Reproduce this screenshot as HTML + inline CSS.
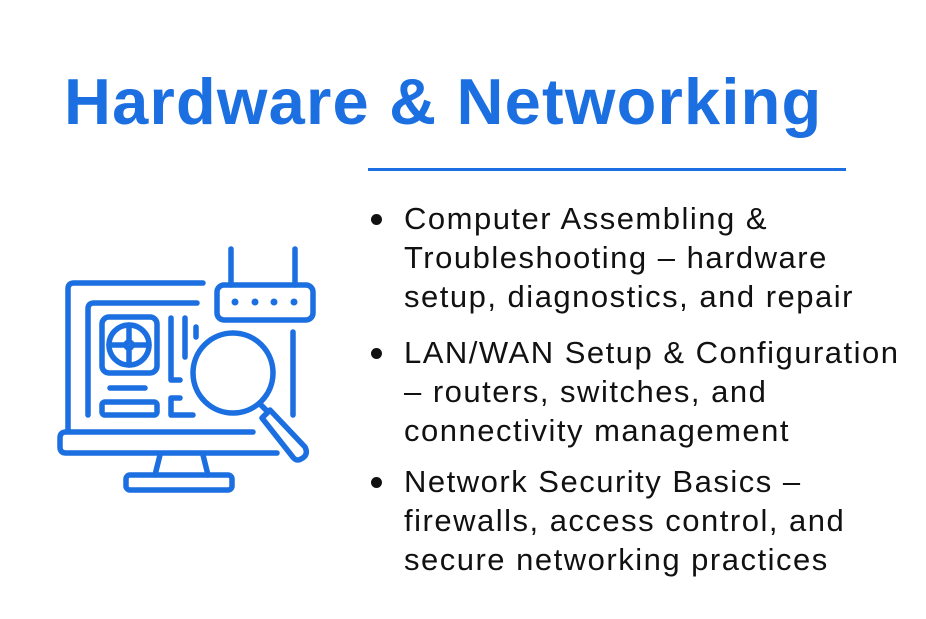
<!DOCTYPE html>
<html><head><style>
body{margin:0;width:926px;height:619px;background:#fff;overflow:hidden;position:relative;font-family:"Liberation Sans",sans-serif}
h1{position:absolute;left:64px;top:64px;margin:0;font-size:65px;font-weight:bold;color:#1b6fe0;letter-spacing:1.2px;white-space:nowrap}
.rule{position:absolute;left:368px;top:168px;width:478px;height:3px;background:#1b6fe0}
ul{position:absolute;left:404px;top:199px;margin:0;padding:0;list-style:none;font-size:31px;line-height:39px;color:#111;white-space:nowrap;letter-spacing:1.5px}
li{position:relative;margin-bottom:17px}
li:nth-child(2){margin-bottom:12px}
li:before{content:"";position:absolute;left:-33px;top:15px;width:11px;height:11px;border-radius:50%;background:#111}
</style></head><body>
<h1>Hardware &amp; Networking</h1>
<div class="rule"></div>
<ul>
<li>Computer Assembling &amp;<br>Troubleshooting – hardware<br>setup, diagnostics, and repair</li>
<li>LAN/WAN Setup &amp; Configuration<br>– routers, switches, and<br>connectivity management</li>
<li>Network Security Basics –<br>firewalls, access control, and<br>secure networking practices</li>
</ul>
<svg width="926" height="619" style="position:absolute;left:0;top:0" fill="none" stroke="#1b6fe0" stroke-width="5.5" stroke-linecap="round" stroke-linejoin="round">
<path d="M203 283 H74 Q68 283 68 289 V430"/>
<path d="M197 303 H94 Q88 303 88 309 V415"/>
<line x1="293" y1="332" x2="293" y2="415"/>
<path d="M253 432 H66 Q60 432 60 438 V447 Q60 453 66 453 H277"/>
<path d="M160 455 L155 475 M203 455 L208 475"/>
<rect x="126" y="475" width="106" height="15" rx="4"/>
<rect x="102" y="317" width="55" height="56" rx="7"/>
<circle cx="129" cy="345" r="20"/>
<path d="M109 345 H149 M129 325 V365"/>
<circle cx="129" cy="345" r="3" fill="#fff"/>
<line x1="110" y1="388" x2="145" y2="388"/>
<rect x="102" y="402" width="55" height="13" rx="3"/>
<path d="M171 318 V380 H180"/>
<line x1="185" y1="318" x2="185" y2="357"/>
<line x1="196" y1="327" x2="196" y2="337"/>
<path d="M180 398 H171 V415 H193"/>
<rect x="217" y="285" width="96" height="35" rx="7"/>
<path d="M231 285 V249 M295 285 V249"/>
<g fill="#1b6fe0" stroke="none"><circle cx="235" cy="302" r="3.5"/><circle cx="255" cy="302" r="3.5"/><circle cx="274" cy="302" r="3.5"/><circle cx="294" cy="302" r="3.5"/></g>
<circle cx="233" cy="373" r="40" fill="#fff"/>
<path d="M260 404 L268 412 M262 418 L270 410 L305 447 Q309 455 301 459 Q296 462 292 456 L262 418"/>
</svg>
</body></html>
